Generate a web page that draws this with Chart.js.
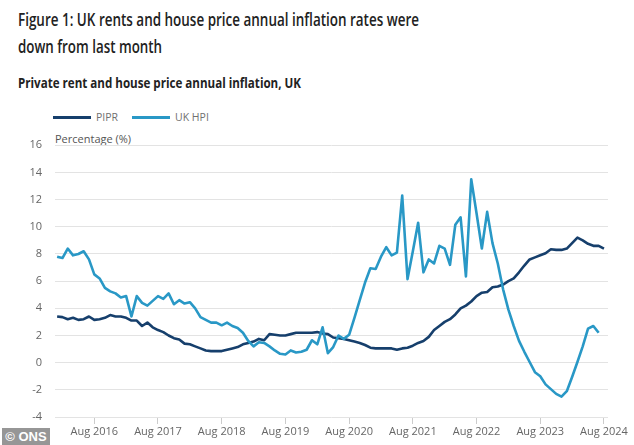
<!DOCTYPE html>
<html>
<head>
<meta charset="utf-8">
<script src="https://cdn.jsdelivr.net/npm/chart.js@4.4.1/dist/chart.umd.min.js"></script>
<style>
  body { margin: 0; width: 634px; height: 445px; background: #fff; position: relative; overflow: hidden; font-family: "Open Sans", sans-serif; }
  .fit { position: absolute; left: 18px; white-space: nowrap; transform-origin: 0 0; color: #222; }
  #t1 { top: 7px; font-size: 18px; font-weight: 600; }
  #t2 { top: 34px; font-size: 18px; font-weight: 600; }
  #sub { top: 73px; font-size: 14.5px; font-weight: 700; }
  #legend { position: absolute; left: 53px; top: 110px; font-size: 10.5px; color: #707070; display: flex; }
  #legend .item { display: flex; align-items: center; margin-right: 14px; }
  #legend .swatch { width: 38px; height: 3px; margin-right: 5px; }
  #ylab { position: absolute; left: 55px; top: 131px; font-size: 11px; color: #555; }
  #ons { position: absolute; left: 2px; top: 428px; width: 48px; height: 17px; background: #969696; color: #fff; font: bold 13px "Liberation Sans", Arial, sans-serif; line-height: 17px; text-align: center; }
  canvas { position: absolute; left: 0; top: 130px; }
</style>
</head>
<body>
<div id="t1" class="fit" data-w="401">Figure 1: UK rents and house price annual inflation rates were</div>
<div id="t2" class="fit" data-w="144">down from last month</div>
<div id="sub" class="fit" data-w="283">Private rent and house price annual inflation, UK</div>
<div id="legend"></div>
<div id="ylab">Percentage (%)</div>
<canvas id="chart" width="634" height="315"></canvas>
<div id="ons">© ONS</div>
<script>
// monthly series, Jan 2016 onwards
const startYear = 2016;
const monthNames = ["Jan","Feb","Mar","Apr","May","Jun","Jul","Aug","Sep","Oct","Nov","Dec"];

const piprValues = [
  3.4, 3.35, 3.2, 3.3, 3.15, 3.2, 3.4, 3.15, 3.2, 3.3, 3.5, 3.4,
  3.4, 3.3, 3.1, 3.1, 2.7, 2.95, 2.6, 2.4, 2.25, 2.0, 1.8, 1.7,
  1.4, 1.35, 1.2, 1.05, 0.9, 0.85, 0.85, 0.85, 0.95, 1.05, 1.15, 1.35,
  1.45, 1.55, 1.75, 1.65, 2.1, 2.05, 2.0, 2.0, 2.1, 2.2, 2.2, 2.2,
  2.2, 2.25, 2.15, 2.1, 1.85, 1.8, 1.75, 1.65, 1.55, 1.45, 1.3, 1.1,
  1.05, 1.05, 1.05, 1.05, 0.95, 1.05, 1.1, 1.25, 1.45, 1.6, 1.9, 2.4,
  2.7, 3.0, 3.2, 3.55, 4.0, 4.2, 4.5, 4.9, 5.15, 5.2, 5.55, 5.6,
  5.75, 6.0, 6.2, 6.65, 7.15, 7.6, 7.75, 7.9, 8.05, 8.35, 8.3, 8.3,
  8.4, 8.8, 9.2, 9.0, 8.75, 8.6, 8.6, 8.4
];

const hpiValues = [
  7.8, 7.7, 8.4, 7.9, 8.0, 8.2, 7.6, 6.5, 6.2, 5.5, 5.25, 5.1,
  4.8, 4.9, 3.4, 4.9, 4.4, 4.2, 4.55, 4.9, 4.7, 5.1, 4.3, 4.6,
  4.35, 4.45, 4.0, 3.35, 3.15, 2.95, 2.95, 2.75, 2.95, 2.7, 2.55, 2.2,
  1.6, 1.2, 1.5, 1.45, 1.2, 0.9, 0.65, 0.6, 0.9, 0.75, 0.8, 0.95,
  1.65, 1.35, 2.6, 0.7, 1.15, 2.0, 1.75, 2.05, 3.3, 4.6, 5.9, 6.95,
  6.9, 7.8, 8.5, 7.9, 8.1, 12.3, 6.15, 8.2, 10.3, 6.65, 7.6, 7.3,
  8.6, 8.4, 7.2, 10.15, 10.7, 6.35, 13.5, 11.0, 8.4, 11.1, 8.8, 7.3,
  5.4, 3.9, 2.7, 1.6, 0.8, 0.05, -0.7, -1.0, -1.6, -1.95, -2.3, -2.5,
  -2.1, -1.05, 0.05, 1.2, 2.5, 2.7, 2.2
];

const monthLabels = piprValues.map((v, i) =>
  monthNames[i % 12] + " " + (startYear + Math.floor(i / 12)));
const tickMonths = monthLabels.map((l, i) => i).filter(i => i % 12 === 7);

const yTicks = [-4, -2, 0, 2, 4, 6, 8, 10, 12, 14, 16];

const darkBlue = "#163f6c";
const lightBlue = "#2998c6";

// squeeze heading text to the reference width
document.querySelectorAll(".fit").forEach(el => {
  const w = el.getBoundingClientRect().width;
  el.style.transform = "scaleX(" + (el.dataset.w / w) + ")";
});

const chart = new Chart(document.getElementById("chart"), {
  type: "line",
  data: {
    datasets: [
      { label: "PIPR", data: piprValues.map((v, i) => ({ x: i, y: v })),
        borderColor: darkBlue, backgroundColor: darkBlue, order: 1 },
      { label: "UK HPI", data: hpiValues.map((v, i) => ({ x: i, y: v })),
        borderColor: lightBlue, backgroundColor: lightBlue, order: 0 }
    ]
  },
  options: {
    responsive: false,
    animation: false,
    devicePixelRatio: 1,
    layout: { padding: { top: 15.3, right: 26, left: 0, bottom: 0 } },
    elements: {
      line: { borderWidth: 2.6, tension: 0, borderJoinStyle: "round" },
      point: { radius: 0 }
    },
    plugins: { legend: { display: false }, tooltip: { enabled: false } },
    scales: {
      x: {
        type: "linear",
        min: -0.4,
        max: 103.76,
        afterBuildTicks: s => { s.ticks = tickMonths.map(v => ({ value: v })); },
        afterFit: s => { s.height = 28; },
        ticks: {
          autoSkip: false, maxRotation: 0, padding: 1,
          color: "#666", font: { family: "Open Sans", size: 11 },
          callback: v => monthLabels[v]
        },
        grid: { drawOnChartArea: false, tickLength: 7, tickColor: "#ccc" },
        border: { display: false }
      },
      y: {
        min: -4,
        max: 16,
        afterBuildTicks: s => { s.ticks = yTicks.map(v => ({ value: v })); },
        afterFit: s => { s.width = 55; s.paddingTop = 0; s.paddingBottom = 0; },
        ticks: { padding: 13, color: "#666", font: { family: "Open Sans", size: 11 } },
        grid: { color: "#e3e3e3", drawTicks: false },
        border: { display: false }
      }
    }
  }
});

// legend from the chart's datasets
const legend = document.getElementById("legend");
chart.data.datasets.forEach(ds => {
  const item = document.createElement("div");
  item.className = "item";
  item.innerHTML = `<span class="swatch" style="background:${ds.borderColor}"></span><span>${ds.label}</span>`;
  legend.appendChild(item);
});
</script>
</body>
</html>
